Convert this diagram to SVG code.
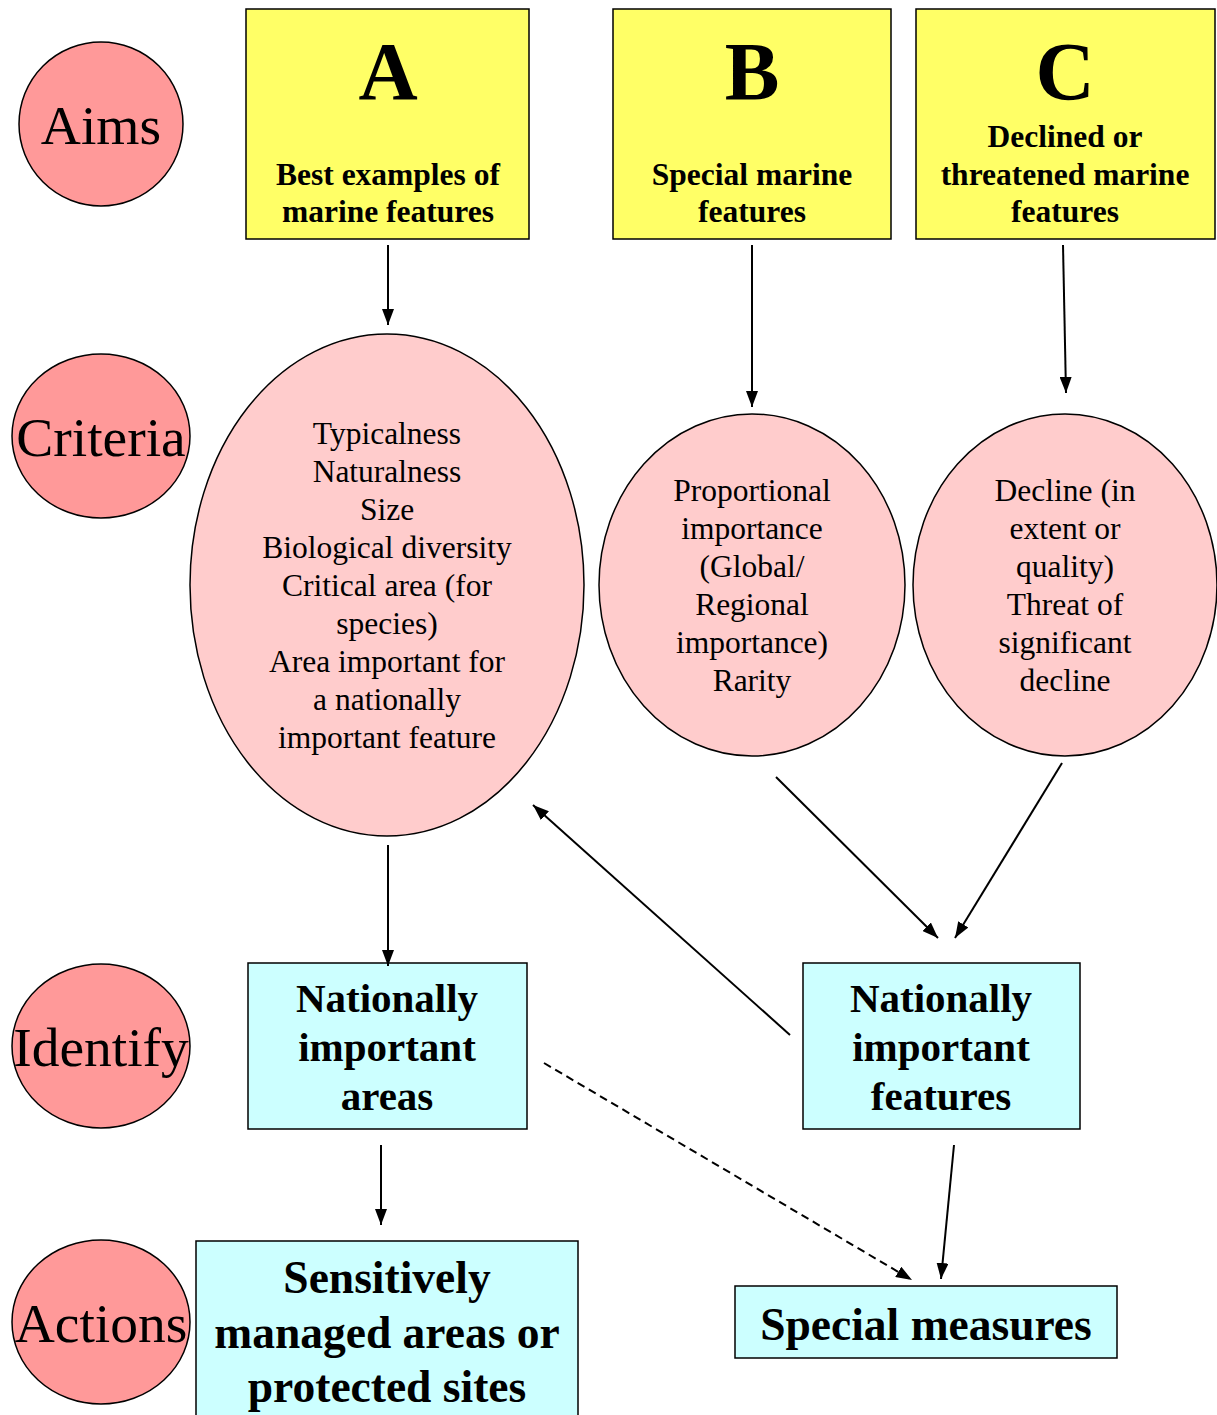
<svg xmlns="http://www.w3.org/2000/svg" width="1217" height="1415" viewBox="0 0 1217 1415">
<style>
.lab{fill:#FF9999;stroke:#000;stroke-width:1.5}
.crit{fill:#FFCCCC;stroke:#000;stroke-width:1.5}
.aim{fill:#FFFF66;stroke:#000;stroke-width:1.5}
.act{fill:#CCFFFF;stroke:#000;stroke-width:1.5}
text{font-family:"Liberation Serif","Times New Roman",serif;fill:#000;text-anchor:middle}
.lt{font-size:55.5px}
.big{font-size:82px;font-weight:bold}
.sub{font-size:31.5px;font-weight:bold}
.ct{font-size:31.5px}
.idt{font-size:41px;font-weight:bold}
.acts{font-size:45.5px;font-weight:bold}
.con{stroke:#000;stroke-width:2;fill:none;marker-end:url(#ah)}
</style>
<defs>
<marker id="ah" viewBox="0 0 16 12" refX="16" refY="6" markerWidth="16" markerHeight="12" markerUnits="userSpaceOnUse" orient="auto">
<path d="M0,0 L16,6 L0,12 Z" fill="#000"/>
</marker>
</defs>
<rect width="1217" height="1415" fill="#fff"/>
<g id="label-aims"><ellipse class="lab" cx="101" cy="124" rx="82" ry="82"/><text class="lt" x="101" y="144">Aims</text></g>
<g id="label-criteria"><ellipse class="lab" cx="101" cy="436" rx="89" ry="82"/><text class="lt" x="101" y="456">Criteria</text></g>
<g id="label-identify"><ellipse class="lab" cx="101" cy="1046" rx="89" ry="82"/><text class="lt" x="101" y="1066">Identify</text></g>
<g id="label-actions"><ellipse class="lab" cx="101" cy="1322" rx="89" ry="82"/><text class="lt" x="101" y="1342">Actions</text></g>

<g id="aim-a"><rect class="aim" x="246" y="9" width="283" height="230"/><text class="big" x="388" y="99">A</text><text class="sub" x="388" y="185">Best examples of</text><text class="sub" x="388" y="222">marine features</text></g>
<g id="aim-b"><rect class="aim" x="613" y="9" width="278" height="230"/><text class="big" x="752" y="99">B</text><text class="sub" x="752" y="185">Special marine</text><text class="sub" x="752" y="222">features</text></g>
<g id="aim-c"><rect class="aim" x="916" y="9" width="299" height="230"/><text class="big" x="1065" y="99">C</text><text class="sub" x="1065" y="147">Declined or</text><text class="sub" x="1065" y="185">threatened marine</text><text class="sub" x="1065" y="222">features</text></g>

<g id="crit-a"><ellipse class="crit" cx="387" cy="585" rx="197" ry="251"/>
<text class="ct" x="387" y="444">Typicalness</text>
<text class="ct" x="387" y="482">Naturalness</text>
<text class="ct" x="387" y="520">Size</text>
<text class="ct" x="387" y="558">Biological diversity</text>
<text class="ct" x="387" y="596">Critical area (for</text>
<text class="ct" x="387" y="634">species)</text>
<text class="ct" x="387" y="672">Area important for</text>
<text class="ct" x="387" y="710">a nationally</text>
<text class="ct" x="387" y="748">important feature</text></g>
<g id="crit-b"><ellipse class="crit" cx="752" cy="585" rx="153" ry="171"/>
<text class="ct" x="752" y="501">Proportional</text>
<text class="ct" x="752" y="539">importance</text>
<text class="ct" x="752" y="577">(Global/</text>
<text class="ct" x="752" y="615">Regional</text>
<text class="ct" x="752" y="653">importance)</text>
<text class="ct" x="752" y="691">Rarity</text></g>
<g id="crit-c"><ellipse class="crit" cx="1065" cy="585" rx="152" ry="171"/>
<text class="ct" x="1065" y="501">Decline (in</text>
<text class="ct" x="1065" y="539">extent or</text>
<text class="ct" x="1065" y="577">quality)</text>
<text class="ct" x="1065" y="615">Threat of</text>
<text class="ct" x="1065" y="653">significant</text>
<text class="ct" x="1065" y="691">decline</text></g>

<g id="nat-areas"><rect class="act" x="248" y="963" width="279" height="166"/><text class="idt" x="387" y="1012">Nationally</text><text class="idt" x="387" y="1061">important</text><text class="idt" x="387" y="1110">areas</text></g>
<g id="nat-features"><rect class="act" x="803" y="963" width="277" height="166"/><text class="idt" x="941" y="1012">Nationally</text><text class="idt" x="941" y="1061">important</text><text class="idt" x="941" y="1110">features</text></g>

<g id="sensitive"><rect class="act" x="196" y="1241" width="382" height="190"/><text class="acts" x="387" y="1293">Sensitively</text><text class="acts" x="387" y="1348">managed areas or</text><text class="acts" x="387" y="1402">protected sites</text></g>
<g id="special"><rect class="act" x="735" y="1286" width="382" height="72"/><text class="acts" x="926" y="1340">Special measures</text></g>

<g id="connectors">
<line class="con" x1="388" y1="245" x2="388" y2="325"/>
<line class="con" x1="752" y1="245" x2="752" y2="407"/>
<line class="con" x1="1063" y1="245" x2="1066" y2="393"/>
<line class="con" x1="388" y1="845" x2="388" y2="966"/>
<line class="con" x1="776" y1="777" x2="938" y2="938"/>
<line class="con" x1="1062" y1="763" x2="955" y2="938"/>
<line class="con" x1="790" y1="1035" x2="533" y2="805"/>
<line class="con" x1="381" y1="1145" x2="381" y2="1225"/>
<line class="con" x1="544" y1="1063" x2="912" y2="1280" stroke-dasharray="8,5"/>
<line class="con" x1="954" y1="1145" x2="941" y2="1279"/>
</g>
</svg>
